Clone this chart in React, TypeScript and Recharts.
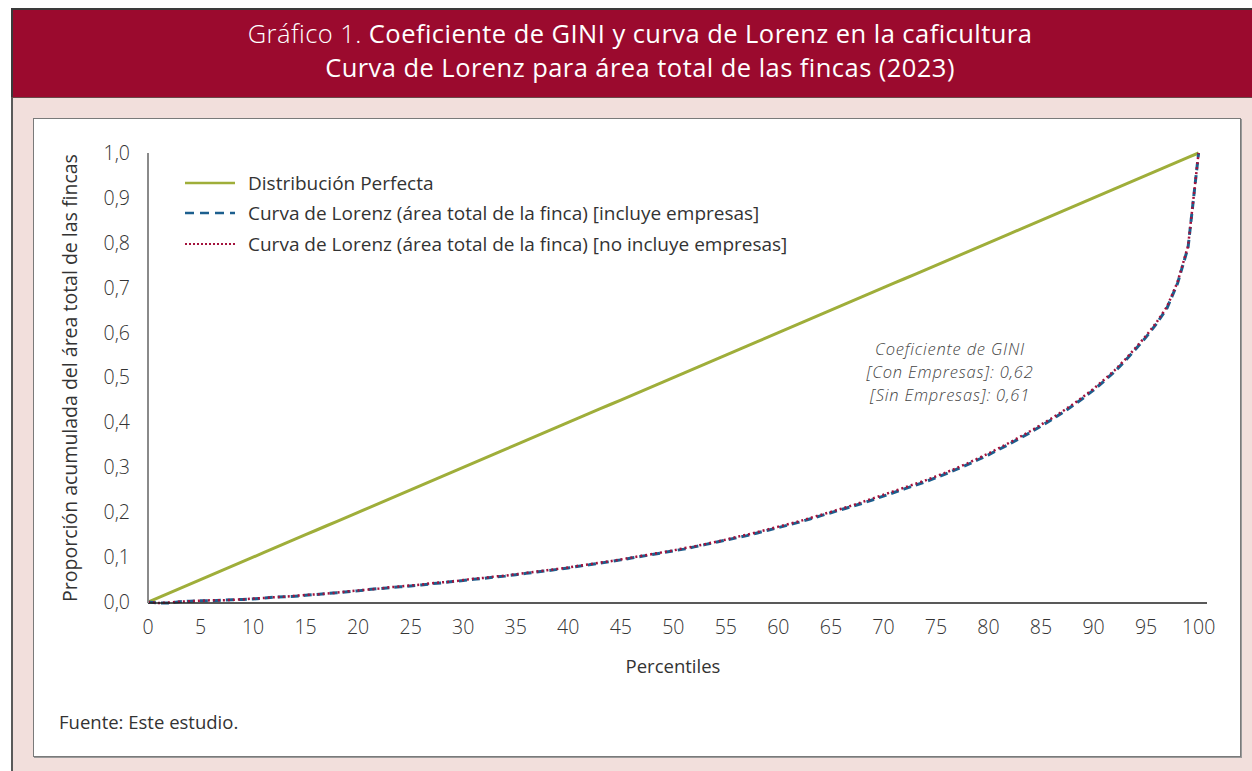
import React from "react"
import { LineChart, Line, XAxis, YAxis } from "recharts"

const PERCENTILES = [
  0, 1, 2, 3, 4, 5, 6, 7, 8, 9, 10, 11, 12, 13, 14, 15, 16, 17, 18, 19, 20,
  21, 22, 23, 24, 25, 26, 27, 28, 29, 30, 31, 32, 33, 34, 35, 36, 37, 38, 39, 40,
  41, 42, 43, 44, 45, 46, 47, 48, 49, 50, 51, 52, 53, 54, 55, 56, 57, 58, 59, 60,
  61, 62, 63, 64, 65, 66, 67, 68, 69, 70, 71, 72, 73, 74, 75, 76, 77, 78, 79, 80,
  81, 82, 83, 84, 85, 86, 87, 88, 89, 90, 91, 92, 93, 94, 95, 96, 97, 98, 99, 100,
]

// Distribución Perfecta
const PERFECTA = [
  0, 0.01, 0.02, 0.03, 0.04, 0.05, 0.06, 0.07, 0.08, 0.09, 0.1,
  0.11, 0.12, 0.13, 0.14, 0.15, 0.16, 0.17, 0.18, 0.19, 0.2,
  0.21, 0.22, 0.23, 0.24, 0.25, 0.26, 0.27, 0.28, 0.29, 0.3,
  0.31, 0.32, 0.33, 0.34, 0.35, 0.36, 0.37, 0.38, 0.39, 0.4,
  0.41, 0.42, 0.43, 0.44, 0.45, 0.46, 0.47, 0.48, 0.49, 0.5,
  0.51, 0.52, 0.53, 0.54, 0.55, 0.56, 0.57, 0.58, 0.59, 0.6,
  0.61, 0.62, 0.63, 0.64, 0.65, 0.66, 0.67, 0.68, 0.69, 0.7,
  0.71, 0.72, 0.73, 0.74, 0.75, 0.76, 0.77, 0.78, 0.79, 0.8,
  0.81, 0.82, 0.83, 0.84, 0.85, 0.86, 0.87, 0.88, 0.89, 0.9,
  0.91, 0.92, 0.93, 0.94, 0.95, 0.96, 0.97, 0.98, 0.99, 1.0,
]

// Curva de Lorenz [incluye empresas]
const LORENZ_CON = [
  0, -0.002, -0.002, 0.001, 0.002, 0.003, 0.003, 0.004, 0.005, 0.006, 0.007,
  0.009, 0.011, 0.012, 0.013, 0.015, 0.017, 0.019, 0.021, 0.023, 0.025,
  0.028, 0.03, 0.032, 0.034, 0.036, 0.038, 0.041, 0.043, 0.046, 0.048,
  0.051, 0.053, 0.056, 0.058, 0.061, 0.064, 0.067, 0.07, 0.073, 0.076,
  0.08, 0.083, 0.087, 0.09, 0.094, 0.098, 0.102, 0.106, 0.11, 0.114,
  0.118, 0.123, 0.128, 0.133, 0.138, 0.143, 0.148, 0.154, 0.16, 0.166,
  0.172, 0.178, 0.185, 0.192, 0.199, 0.206, 0.213, 0.22, 0.228, 0.236,
  0.244, 0.252, 0.26, 0.268, 0.277, 0.286, 0.296, 0.306, 0.317, 0.328,
  0.34, 0.352, 0.365, 0.378, 0.392, 0.406, 0.421, 0.437, 0.454, 0.472,
  0.492, 0.513, 0.537, 0.563, 0.59, 0.62, 0.655, 0.71, 0.79, 1.0,
]

// Curva de Lorenz [no incluye empresas]
const LORENZ_SIN = [
  0, -0.002, -0.001, 0.001, 0.002, 0.003, 0.004, 0.004, 0.005, 0.006, 0.008,
  0.009, 0.011, 0.012, 0.014, 0.016, 0.017, 0.019, 0.021, 0.024, 0.026,
  0.028, 0.03, 0.033, 0.035, 0.037, 0.039, 0.042, 0.044, 0.046, 0.049,
  0.052, 0.054, 0.057, 0.059, 0.062, 0.065, 0.068, 0.071, 0.074, 0.077,
  0.081, 0.084, 0.088, 0.091, 0.095, 0.099, 0.103, 0.107, 0.111, 0.115,
  0.12, 0.124, 0.129, 0.134, 0.139, 0.145, 0.15, 0.156, 0.162, 0.168,
  0.174, 0.18, 0.187, 0.194, 0.201, 0.208, 0.215, 0.223, 0.231, 0.239,
  0.247, 0.255, 0.263, 0.271, 0.28, 0.289, 0.299, 0.309, 0.32, 0.331,
  0.343, 0.355, 0.368, 0.381, 0.395, 0.409, 0.424, 0.44, 0.457, 0.475,
  0.495, 0.516, 0.54, 0.566, 0.593, 0.623, 0.658, 0.713, 0.793, 1.0,
]

const X_TICKS = [0, 5, 10, 15, 20, 25, 30, 35, 40, 45, 50, 55, 60, 65, 70, 75, 80, 85, 90, 95, 100]
const Y_TICKS = [0, 0.1, 0.2, 0.3, 0.4, 0.5, 0.6, 0.7, 0.8, 0.9, 1.0]

const SERIES_NAMES = [
  "Distribución Perfecta",
  "Curva de Lorenz (área total de la finca) [incluye empresas]",
  "Curva de Lorenz (área total de la finca) [no incluye empresas]",
]

const GINI_LINES = ["Coeficiente de GINI", "[Con Empresas]: 0,62", "[Sin Empresas]: 0,61"]

const GREEN = "#9fae3a"
const BLUE = "#1c5f8e"
const RED = "#a3123c"
const FONT = "'Open Sans', Lato, sans-serif"
const TEXT = "#333"

const data = PERCENTILES.map((p, i) => ({
  p,
  perfecta: PERFECTA[i],
  con: LORENZ_CON[i],
  sin: LORENZ_SIN[i],
}))

const abs = (style: React.CSSProperties): React.CSSProperties => ({ position: "absolute", ...style })

function LegendRow({ y, kind, label }: { y: number; kind: "solid" | "dash" | "dot"; label: string }) {
  const stroke = kind === "solid" ? GREEN : kind === "dash" ? BLUE : RED
  const dash = kind === "solid" ? undefined : kind === "dash" ? "9 6" : "2 2"
  const width = kind === "dot" ? 2 : 2.5
  return (
    <div style={abs({ left: 185, top: y - 12, height: 24, width: 700 })}>
      <svg width={52} height={24} style={{ position: "absolute", left: 0, top: 0 }}>
        <line x1={0} y1={12} x2={50} y2={12} stroke={stroke} strokeWidth={width} strokeDasharray={dash} />
      </svg>
      <div style={abs({ left: 63, top: 0, lineHeight: "24px", fontSize: 19, color: TEXT, whiteSpace: "nowrap" })}>
        {label}
      </div>
    </div>
  )
}

export default function App() {
  return (
    <div style={abs({ left: 0, top: 0, width: 1252, height: 771, overflow: "hidden", background: "#fff", fontFamily: FONT })}>
      {/* encabezado */}
      <div style={abs({ left: 11, top: 8, width: 1250, height: 89, background: "#9b0a2e", borderTop: "2px solid #3a3a3a", borderLeft: "2px solid #3a3a3a", boxSizing: "border-box" })} />
      <div style={abs({ left: 11, top: 97, width: 1250, height: 680, background: "#f2dfdc", borderLeft: "2px solid #5a5a5a", borderTop: "1px solid #6a4a4a", boxSizing: "border-box" })} />
      <div style={abs({ left: 11, top: 16, width: 1258, textAlign: "center", color: "#fff", fontSize: 25.5, lineHeight: "34px", letterSpacing: 0.45 })}>
        <div>
          <span style={{ fontWeight: 300 }}>Gráfico 1. </span>
          <span style={{ fontWeight: 400 }}>Coeficiente de GINI y curva de Lorenz en la caficultura</span>
        </div>
        <div style={{ fontWeight: 400 }}>Curva de Lorenz para área total de las fincas (2023)</div>
      </div>

      {/* recuadro blanco */}
      <div style={abs({ left: 33, top: 118, width: 1208, height: 639, background: "#fff", border: "1px solid #7a7a7a", boxShadow: "1px 1px 0 #9a9a9a", boxSizing: "border-box" })} />

      <div style={abs({ left: 0, top: 0 })}>
        <LineChart width={1252} height={771} data={data} margin={{ top: 153, right: 45, bottom: 138, left: 88 }}>
          <XAxis
            dataKey="p"
            type="number"
            domain={[0, 100.8]}
            ticks={X_TICKS}
            interval={0}
            height={30}
            tickLine={false}
            axisLine={{ stroke: "#222", strokeWidth: 1.5 }}
            tickMargin={11}
            tick={{ fill: TEXT, fontSize: 19.5, fontFamily: FONT, fontWeight: 300 }}
          />
          <YAxis
            type="number"
            domain={[0, 1]}
            ticks={Y_TICKS}
            interval={0}
            width={60}
            tickLine={false}
            axisLine={{ stroke: "#8a8a8a", strokeWidth: 2 }}
            tickMargin={12}
            tickFormatter={(v: number) => v.toFixed(1).replace(".", ",")}
            tick={{ fill: TEXT, fontSize: 19.5, fontFamily: FONT, fontWeight: 300 }}
          />
          <Line type="linear" dataKey="perfecta" name={SERIES_NAMES[0]} stroke={GREEN} strokeWidth={3} dot={false} isAnimationActive={false} />
          <Line type="linear" dataKey="con" name={SERIES_NAMES[1]} stroke={BLUE} strokeWidth={3} strokeDasharray="8 5" dot={false} isAnimationActive={false} />
          <Line type="linear" dataKey="sin" name={SERIES_NAMES[2]} stroke={RED} strokeWidth={2.5} strokeDasharray="2 3" dot={false} isAnimationActive={false} />
        </LineChart>
      </div>

      {/* leyenda */}
      <LegendRow y={183} kind="solid" label={SERIES_NAMES[0]} />
      <LegendRow y={213} kind="dash" label={SERIES_NAMES[1]} />
      <LegendRow y={244} kind="dot" label={SERIES_NAMES[2]} />

      {/* títulos de ejes */}
      <div style={abs({ left: 70 - 250, top: 378 - 12, width: 500, height: 24, lineHeight: "24px", textAlign: "center", transform: "rotate(-90deg)", fontSize: 19.5, color: TEXT, whiteSpace: "nowrap" })}>
        Proporción acumulada del área total de las fincas
      </div>
      <div style={abs({ left: 573, top: 654, width: 200, textAlign: "center", fontSize: 18.5, color: TEXT, lineHeight: "24px" })}>
        Percentiles
      </div>

      {/* anotación GINI */}
      {GINI_LINES.map((t, i) => (
        <div
          key={t}
          style={abs({ left: 850, top: 337 + i * 23, width: 200, height: 23, textAlign: "center", fontSize: 16.5, letterSpacing: 0.8, fontStyle: "italic", color: "#444", lineHeight: "23px", fontWeight: 300, whiteSpace: "nowrap" })}
        >
          {t}
        </div>
      ))}

      <div style={abs({ left: 59, top: 710, fontSize: 18.5, color: TEXT, lineHeight: "24px" })}>Fuente: Este estudio.</div>
    </div>
  )
}
